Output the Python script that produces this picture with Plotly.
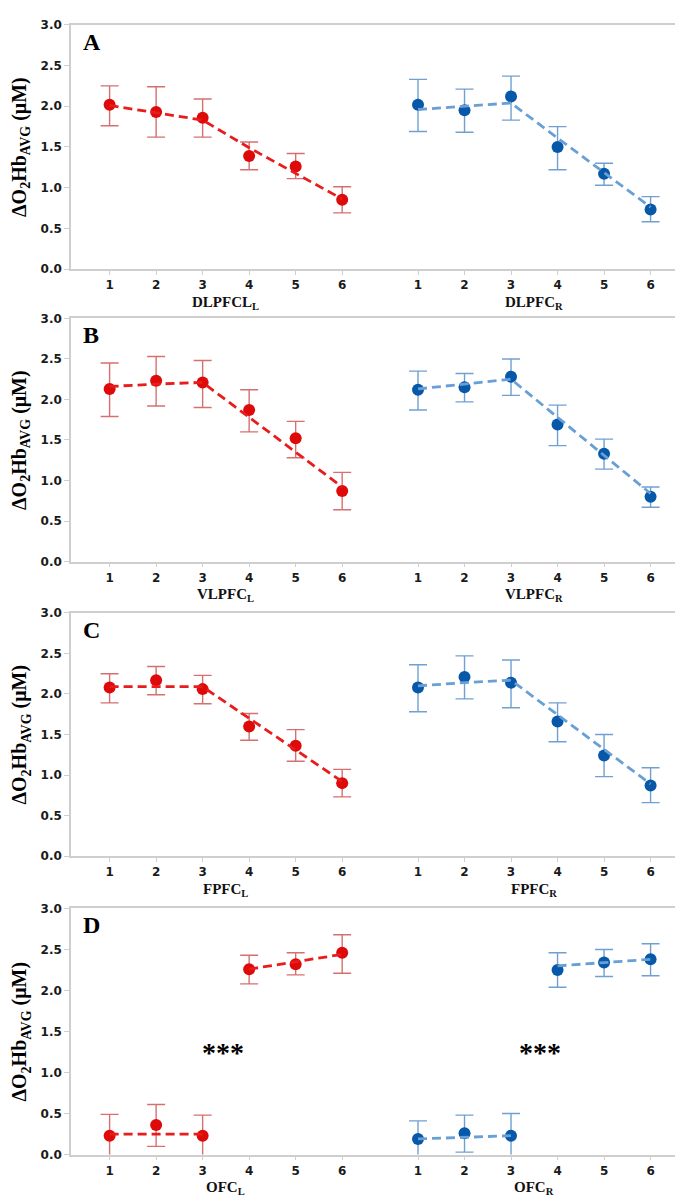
import plotly.graph_objects as go

# ---------------- data ----------------
conditions = [1, 2, 3, 4, 5, 6]
panel_letters = ["A", "B", "C", "D"]
left_names = ["DLPFCL<sub>L</sub>", "VLPFC<sub>L</sub>", "FPFC<sub>L</sub>", "OFC<sub>L</sub>"]
right_names = ["DLPFC<sub>R</sub>", "VLPFC<sub>R</sub>", "FPFC<sub>R</sub>", "OFC<sub>R</sub>"]
y_ticks = [0.0, 0.5, 1.0, 1.5, 2.0, 2.5, 3.0]

# Panel A
a_left_mean = [2.02, 1.93, 1.86, 1.39, 1.26, 0.85]
a_left_upper = [2.25, 2.24, 2.09, 1.56, 1.42, 1.01]
a_left_lower = [1.76, 1.62, 1.62, 1.22, 1.11, 0.69]
a_left_trend = [2.01, 1.92, 1.83, 1.49, 1.18, 0.86]
a_right_mean = [2.02, 1.95, 2.12, 1.50, 1.17, 0.73]
a_right_upper = [2.33, 2.21, 2.37, 1.75, 1.30, 0.89]
a_right_lower = [1.69, 1.68, 1.83, 1.22, 1.03, 0.58]
a_right_trend = [1.96, 2.00, 2.04, 1.61, 1.18, 0.76]

# Panel B
b_left_mean = [2.13, 2.23, 2.21, 1.87, 1.52, 0.87]
b_left_upper = [2.45, 2.53, 2.48, 2.12, 1.73, 1.10]
b_left_lower = [1.79, 1.92, 1.90, 1.60, 1.28, 0.64]
b_left_trend = [2.16, 2.19, 2.21, 1.78, 1.35, 0.92]
b_right_mean = [2.12, 2.15, 2.28, 1.69, 1.33, 0.80]
b_right_upper = [2.35, 2.32, 2.50, 1.93, 1.51, 0.92]
b_right_lower = [1.87, 1.97, 2.05, 1.43, 1.14, 0.67]
b_right_trend = [2.13, 2.19, 2.25, 1.78, 1.31, 0.84]

# Panel C
c_left_mean = [2.08, 2.17, 2.06, 1.60, 1.36, 0.90]
c_left_upper = [2.25, 2.34, 2.23, 1.76, 1.56, 1.07]
c_left_lower = [1.89, 1.99, 1.88, 1.43, 1.17, 0.73]
c_left_trend = [2.09, 2.09, 2.09, 1.70, 1.31, 0.92]
c_right_mean = [2.08, 2.21, 2.14, 1.66, 1.24, 0.87]
c_right_upper = [2.36, 2.47, 2.42, 1.89, 1.50, 1.09]
c_right_lower = [1.78, 1.94, 1.83, 1.41, 0.98, 0.66]
c_right_trend = [2.10, 2.14, 2.17, 1.74, 1.32, 0.89]

# Panel D (trend drawn as two segments: conditions 1-3 and 4-6)
d_left_mean = [0.23, 0.36, 0.23, 2.26, 2.32, 2.46]
d_left_upper = [0.49, 0.61, 0.48, 2.43, 2.46, 2.68]
d_left_lower = [-0.02, 0.10, -0.02, 2.08, 2.19, 2.21]
d_left_trend = [0.25, 0.25, 0.25, 2.26, 2.35, 2.44]
d_right_mean = [0.19, 0.26, 0.23, 2.25, 2.34, 2.38]
d_right_upper = [0.41, 0.48, 0.50, 2.46, 2.50, 2.57]
d_right_lower = [-0.02, 0.03, -0.02, 2.04, 2.17, 2.18]
d_right_trend = [0.19, 0.21, 0.23, 2.30, 2.34, 2.38]

significance_text = "***"
significance_y = 1.24

panels = [
    (a_left_mean, a_left_upper, a_left_lower, a_left_trend,
     a_right_mean, a_right_upper, a_right_lower, a_right_trend, None),
    (b_left_mean, b_left_upper, b_left_lower, b_left_trend,
     b_right_mean, b_right_upper, b_right_lower, b_right_trend, None),
    (c_left_mean, c_left_upper, c_left_lower, c_left_trend,
     c_right_mean, c_right_upper, c_right_lower, c_right_trend, None),
    (d_left_mean, d_left_upper, d_left_lower, d_left_trend,
     d_right_mean, d_right_upper, d_right_lower, d_right_trend, 3),
]

# ---------------- style / layout ----------------
W, H = 683, 1200
RIGHT_OFFSET = 6.63           # x shift of the right-hemisphere group
X_RANGE = [0.17, 13.37]
AX_LEFT_PX, AX_RIGHT_PX = 63, 677
# (top px of 3.0, bottom px of 0.0) for each panel
PANEL_PX = [(10, 257), (307, 553), (605, 851), (904, 1153)]

RED = "rgb(222,10,10)"
RED_LINE = "rgb(232,28,28)"
RED_ERR = "rgb(214,112,112)"
BLUE = "rgb(8,88,170)"
BLUE_LINE = "rgb(104,160,214)"
BLUE_ERR = "rgb(112,160,210)"
AXIS_GRAY = "#cfcfcf"
TICK_FONT = dict(family="DejaVu Sans", size=12, color="#1a1a1a", weight="bold")
SERIF = "Liberation Serif"

fig = go.Figure()
annotations = []


def trend_xy(xs, ys, break_after):
    if break_after is None:
        return list(xs), list(ys)
    bx = list(xs[:break_after]) + [None] + list(xs[break_after:])
    by = list(ys[:break_after]) + [None] + list(ys[break_after:])
    return bx, by


for i, p in enumerate(panels):
    (lm, lu, ll, lt, rm, ru, rl, rt, brk) = p
    ax = "" if i == 0 else str(i + 1)
    xref, yref = "x" + ax, "y" + ax
    xs_left = conditions
    xs_right = [c + RIGHT_OFFSET for c in conditions]

    for xs, m, u, lo, tr, col, lcol, ecol in [
        (xs_left, lm, lu, ll, lt, RED, RED_LINE, RED_ERR),
        (xs_right, rm, ru, rl, rt, BLUE, BLUE_LINE, BLUE_ERR),
    ]:
        # error bars + markers
        fig.add_trace(go.Scatter(
            x=xs, y=m, mode="markers", xaxis=xref, yaxis=yref,
            marker=dict(color=col, size=12, line=dict(width=0)),
            error_y=dict(type="data", symmetric=False,
                         array=[a - b for a, b in zip(u, m)],
                         arrayminus=[b - c for b, c in zip(m, lo)],
                         color=ecol, thickness=1.4, width=9),
            showlegend=False, hoverinfo="skip"))
        tx, ty = trend_xy(xs, tr, brk)
        fig.add_trace(go.Scatter(
            x=tx, y=ty, mode="lines", xaxis=xref, yaxis=yref,
            line=dict(color=lcol, width=2.8, dash="9px,5px"),
            connectgaps=False, showlegend=False, hoverinfo="skip"))

    top_px, bot_px = PANEL_PX[i]
    dom = [1 - bot_px / H, 1 - top_px / H]
    ph = bot_px - top_px

    fig.layout["xaxis" + ax] = dict(
        domain=[AX_LEFT_PX / W, AX_RIGHT_PX / W], range=X_RANGE,
        anchor=yref, tickmode="array",
        tickvals=xs_left + xs_right,
        ticktext=[str(c) for c in conditions] * 2,
        ticks="outside", ticklen=4, tickcolor=AXIS_GRAY, tickwidth=1.2,
        showline=True, linecolor=AXIS_GRAY, linewidth=1.5, mirror=True,
        showgrid=False, zeroline=False, tickfont=TICK_FONT, fixedrange=True)
    fig.layout["yaxis" + ax] = dict(
        domain=dom, range=[0, 3], anchor=xref, tickmode="array",
        tickvals=y_ticks, ticktext=[f"{v:.1f}" for v in y_ticks],
        ticks="outside", ticklen=5, tickcolor=AXIS_GRAY, tickwidth=1.2,
        showline=True, linecolor=AXIS_GRAY, linewidth=1.5, mirror=True,
        showgrid=False, zeroline=False, tickfont=TICK_FONT, fixedrange=True)

    # panel letter
    annotations.append(dict(
        text="<b>" + panel_letters[i] + "</b>", xref="paper", yref="paper",
        x=73 / W, y=1 - (top_px + 17) / H, xanchor="left", yanchor="middle",
        showarrow=False, font=dict(family=SERIF, size=24, color="black")))
    # y-axis title
    annotations.append(dict(
        text="<b>ΔO<sub>2</sub>Hb<sub>AVG</sub> (μM)</b>", xref="paper",
        yref="paper", x=13 / W, y=1 - (top_px + ph / 2) / H,
        xanchor="center", yanchor="middle", textangle=-90, showarrow=False,
        font=dict(family=SERIF, size=20, color="black")))
    # group titles
    for name, cx in [(left_names[i], 3.5), (right_names[i], 3.5 + RIGHT_OFFSET)]:
        annotations.append(dict(
            text="<b>" + name + "</b>", xref=xref, yref="paper",
            x=cx, y=1 - (bot_px + 34) / H, xanchor="center", yanchor="middle",
            showarrow=False, font=dict(family=SERIF, size=15, color="#111")))
    if brk is not None:
        for cx in [3.43, 3.63 + RIGHT_OFFSET]:
            annotations.append(dict(
                text="<b>" + significance_text + "</b>", xref=xref, yref=yref,
                x=cx, y=significance_y, xanchor="center", yanchor="middle",
                showarrow=False,
                font=dict(family=SERIF, size=28, color="black")))

fig.update_layout(
    width=W, height=H, autosize=False,
    margin=dict(l=0, r=0, t=0, b=0),
    paper_bgcolor="white", plot_bgcolor="white",
    showlegend=False, annotations=annotations)

fig.write_html("out.html")
